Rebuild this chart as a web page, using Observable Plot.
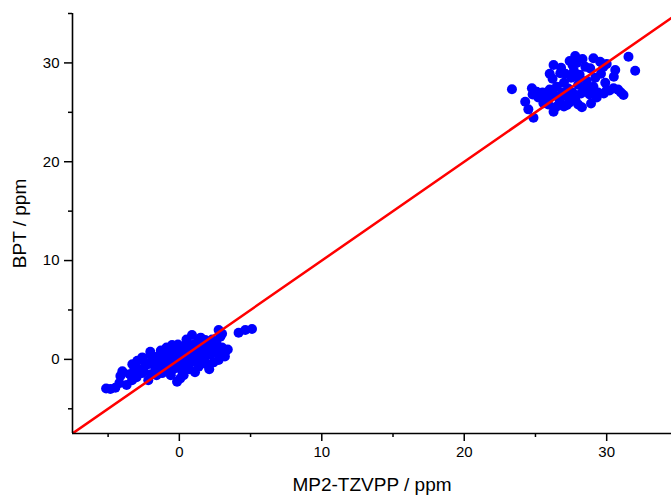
<!DOCTYPE html>
<html>
<head>
<meta charset="utf-8">
<script src="https://cdn.jsdelivr.net/npm/d3@7"></script>
<script src="https://cdn.jsdelivr.net/npm/@observablehq/plot@0.6"></script>
<style>
  html, body { margin: 0; padding: 0; background: #fff; }
  svg { display: block; }
</style>
</head>
<body>
<div id="chart"></div>
<script>
// MP2-TZVPP shifts (x) and BPT shifts (y), ppm — cluster near 0
const lowX = [-5.14,-4.84,-4.49,-4.21,-4.14,-3.32,-3.16,-2.95,-2.62,-2.39,-2.04,-1.82,-1.21,-0.51,-0.86,-1.47,-2.18,-1.21,-0.51,-0.16,0.89,2.76,4.16,4.63,5.10,3.23,2.76,2.06,1.35,0.65,0.07,1.82,2.88,0.19,1.12,2.29,
  -3.5,-3.0,-2.8,-2.5,-2.2,-2.0,-1.9,-1.7,-1.5,-1.4,-1.2,-1.0,-1.0,-0.8,-0.7,-0.5,-0.4,-0.3,-0.2,0.0,0.0,0.1,0.2,0.3,0.4,0.5,0.6,0.7,0.8,1.0,1.0,1.2,1.3,1.4,1.5,1.6,1.8,1.9,2.0,2.2,2.3,2.4,2.5,2.6,2.8,3.0,3.0,-2.0,-1.6,-0.9,-0.1,0.5,1.5,-3.3,-2.6,1.1,-0.6,0.3,-1.3,2.1,3.2,3.4,-4.0,-3.7];
const lowY = [-2.94,-3.0,-2.87,-2.40,-1.69,-2.10,-0.98,-0.14,-1.39,-0.37,0.77,0.26,0.64,1.45,0.77,-0.37,-2.10,-1.39,-1.08,-2.27,2.46,2.97,2.69,2.97,3.07,0.77,-0.07,0.61,-0.75,-0.75,-1.92,1.95,2.29,1.28,0.94,1.62,
  -1.5,-1.8,-1.0,-1.2,-0.5,-1.5,-0.2,-0.8,0.3,-1.0,-0.3,0.2,-1.2,-0.6,0.5,-0.2,0.9,-0.9,0.3,0.0,-0.5,0.8,-1.2,0.4,-0.3,1.2,0.1,-1.0,0.6,1.5,-0.2,0.3,1.8,-0.4,0.8,1.2,0.2,-0.5,1.3,0.5,2.0,-0.3,1.0,1.7,0.4,1.2,2.6,0.4,-1.6,1.2,1.5,2.0,2.2,-0.5,0.2,-1.3,-1.6,-1.6,0.9,-1.0,0.3,1.0,-1.2,-2.6];
// cluster near 27 ppm
const highX = [23.35,24.28,24.5,24.86,24.75,26.27,27.79,29.07,29.54,30.60,32.0,31.18,31.53,28.26,26.27,25.56,27.21,30.01,30.48,29.07,27.91,26.74,25.09,26.04,28.84,29.78,
  25.5,25.8,26.0,26.3,26.5,26.7,26.9,27.0,27.2,27.3,27.5,27.6,27.7,27.8,28.0,28.1,28.2,28.4,28.5,28.6,28.8,29.0,29.2,29.4,29.6,29.8,30.2,30.5,30.8,27.4,27.9,26.8,26.2,25.2,24.8,27.0,28.0,28.9,29.3,26.5,27.6,28.3,25.9,31.0,30.0,29.9,27.1,26.0,28.7,27.4];
const highY = [27.33,26.07,25.3,24.45,27.43,29.79,30.7,30.47,30.12,29.28,29.21,26.75,30.63,25.51,25.06,25.91,25.74,27.26,27.43,27.59,28.6,28.95,27.08,26.58,29.45,29.62,
  27.0,26.3,27.3,26.8,27.6,26.2,27.0,28.0,26.6,27.4,28.5,27.0,29.2,26.3,27.8,28.8,26.9,27.4,29.6,28.2,26.8,27.3,28.5,27.0,28.9,26.9,27.2,28.6,27.3,30.2,30.0,29.5,28.4,26.5,26.8,25.6,25.8,25.9,26.5,25.6,29.8,30.4,25.8,27.0,29.9,28.0,28.9,28.9,27.6,26.0];
// identity reference line y = x
const lineX = [-7.5, 36];
const lineY = [-7.5, 36];
const majorTicks = [0, 10, 20, 30];
const minorTicksX = [-5, 5, 15, 25];
const minorTicksY = [-5, 5, 15, 25, 35];

const pts = lowX.map((x, i) => ({x, y: lowY[i]}))
  .concat(highX.map((x, i) => ({x, y: highY[i]})));
const line = lineX.map((x, i) => ({x, y: lineY[i]}));

const xDom = [-7.5, 34.55], yDom = [-7.5, 35];
const font = "'Liberation Sans', Arial, sans-serif";

const chart = Plot.plot({
  width: 671,
  height: 496,
  marginLeft: 72,
  marginRight: 0,
  marginTop: 13,
  marginBottom: 63,
  style: {fontFamily: font, fontSize: "15px", color: "#000", background: "#fff"},
  x: {domain: xDom},
  y: {domain: yDom},
  marks: [
    Plot.dot(pts, {x: "x", y: "y", r: 5, fill: "#0000ff", stroke: "none"}),
    Plot.line(line, {x: "x", y: "y", stroke: "#ff0000", strokeWidth: 2.5, clip: true}),
    Plot.ruleX([xDom[0]], {y1: yDom[0], y2: yDom[1], stroke: "#000", strokeWidth: 1.6}),
    Plot.ruleY([yDom[0]], {x1: xDom[0], x2: xDom[1], stroke: "#000", strokeWidth: 1.6}),
    Plot.axisX({ticks: majorTicks, tickSize: 8, tickPadding: 5, strokeWidth: 1.5, fontSize: 15, label: null}),
    Plot.axisX({ticks: minorTicksX, tickSize: 4, text: null, strokeWidth: 1.5, label: null}),
    Plot.axisY({ticks: majorTicks, tickSize: 8, tickPadding: 5, strokeWidth: 1.5, fontSize: 15, label: null}),
    Plot.axisY({ticks: minorTicksY, tickSize: 4, text: null, strokeWidth: 1.5, label: null}),
    Plot.axisX({ticks: [], tickSize: 0, label: "MP2-TZVPP / ppm", labelAnchor: "center", labelArrow: "none", labelOffset: 57, fontSize: 19}),
    Plot.axisY({ticks: [], tickSize: 0, label: "BPT / ppm", labelAnchor: "center", labelArrow: "none", labelOffset: 60, fontSize: 19})
  ]
});
document.getElementById("chart").appendChild(chart);
</script>
</body>
</html>
